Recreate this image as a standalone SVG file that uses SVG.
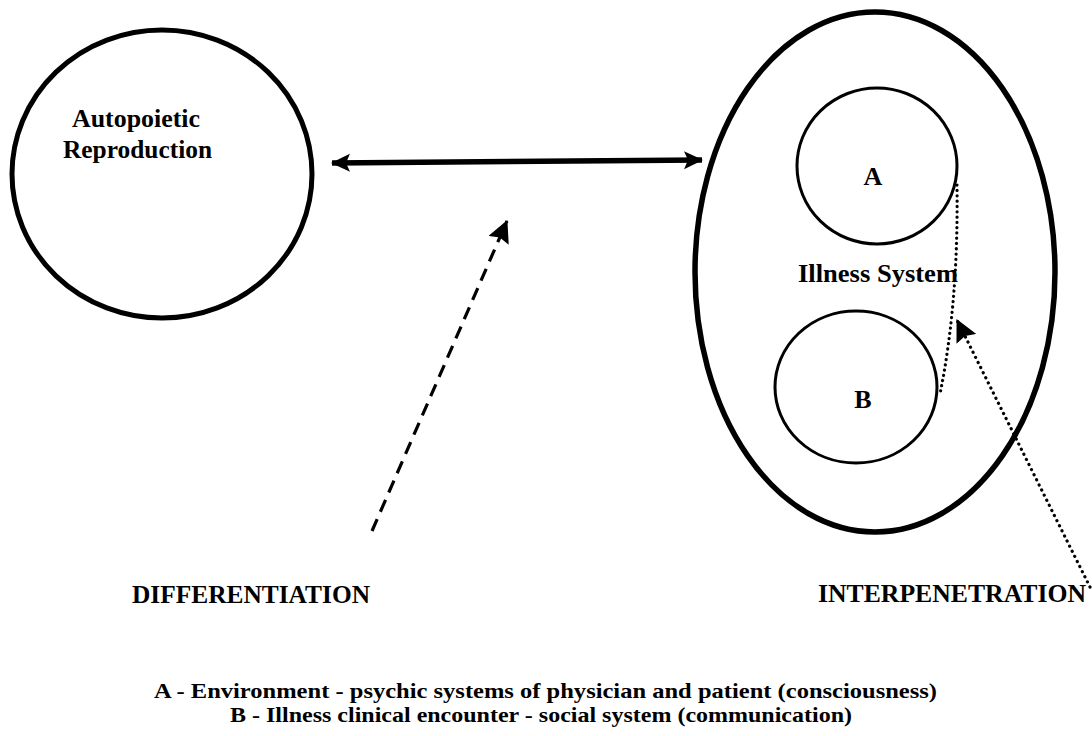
<svg xmlns="http://www.w3.org/2000/svg" width="1092" height="736" viewBox="0 0 1092 736">
<defs>
<style>
.t{font-family:"Liberation Serif","Times New Roman",serif;fill:#000;font-weight:bold}
.thick{fill:none;stroke:#000;stroke-width:5}
.thin{fill:none;stroke:#000;stroke-width:3}
.dots{fill:none;stroke:#000;stroke-width:3.2;stroke-linecap:round}
</style>
<marker id="dbl" markerUnits="userSpaceOnUse" viewBox="0 0 20 20" markerWidth="20" markerHeight="20" refX="18" refY="10" orient="auto-start-reverse">
<path d="M0,1 L19,10 L0,19 L4,10 Z" fill="#000"/>
</marker>
<marker id="tri" markerUnits="userSpaceOnUse" viewBox="0 0 22 22" markerWidth="22" markerHeight="22" refX="21" refY="11" orient="auto">
<path d="M0,0 L22,11 L0,22 L3,11 Z" fill="#000"/>
</marker>
</defs>
<rect width="1092" height="736" fill="#fff"/>

<g id="autopoietic">
<ellipse class="thick" cx="162" cy="174" rx="150" ry="144"/>
<text class="t" x="72" y="127" font-size="25" textLength="128" lengthAdjust="spacingAndGlyphs">Autopoietic</text>
<text class="t" x="63" y="158" font-size="25" textLength="149" lengthAdjust="spacingAndGlyphs">Reproduction</text>
</g>

<g id="illness-system">
<ellipse cx="875" cy="272" rx="180" ry="260" fill="none" stroke="#000" stroke-width="5.5"/>
<text class="t" x="798" y="282" font-size="26" textLength="160" lengthAdjust="spacingAndGlyphs">Illness System</text>
</g>

<g id="node-a">
<ellipse class="thin" cx="877" cy="166" rx="80" ry="78"/>
<text class="t" x="873" y="185" font-size="26" text-anchor="middle">A</text>
</g>

<g id="node-b">
<ellipse class="thin" cx="856" cy="387" rx="81" ry="76"/>
<text class="t" x="863" y="408" font-size="26" text-anchor="middle">B</text>
</g>

<g id="connectors">
<line x1="332" y1="163" x2="702" y2="160" stroke="#000" stroke-width="5.5" marker-start="url(#dbl)" marker-end="url(#dbl)"/>
<line x1="372" y1="531" x2="507" y2="221" stroke="#000" stroke-width="3.2" stroke-dasharray="13 8" marker-end="url(#tri)"/>
<path class="dots" d="M957,185 C958,260 953,330 940,394" stroke-dasharray="0.1 5.2"/>
<line class="dots" x1="1090" y1="587" x2="957" y2="320" stroke-dasharray="0.1 5.6" marker-end="url(#tri)"/>
</g>

<g id="labels">
<text class="t" x="132" y="603" font-size="25" textLength="238" lengthAdjust="spacingAndGlyphs">DIFFERENTIATION</text>
<text class="t" x="818" y="602" font-size="25" textLength="268" lengthAdjust="spacingAndGlyphs">INTERPENETRATION</text>
<text class="t" x="154" y="698" font-size="22" textLength="783" lengthAdjust="spacingAndGlyphs">A - Environment - psychic systems of physician and patient (consciousness)</text>
<text class="t" x="230" y="722" font-size="22" textLength="622" lengthAdjust="spacingAndGlyphs">B - Illness clinical encounter - social system (communication)</text>
</g>
</svg>
